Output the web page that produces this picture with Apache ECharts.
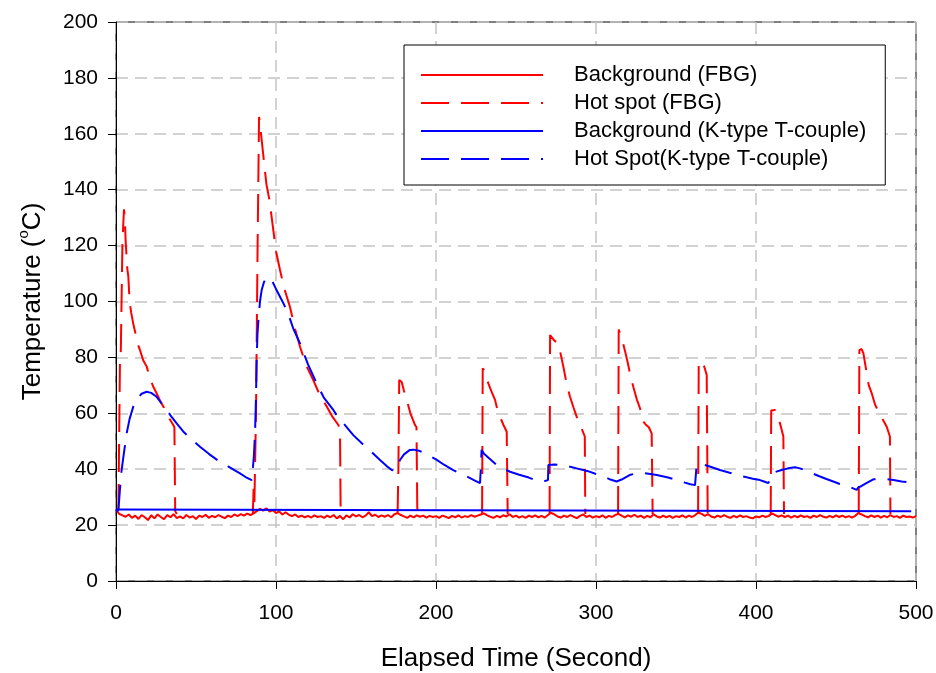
<!DOCTYPE html>
<html>
<head>
<meta charset="utf-8">
<script src="https://cdn.jsdelivr.net/npm/echarts@6/dist/echarts.min.js"></script>
<style>
  html, body { margin: 0; padding: 0; background: #fff; }
  #main { width: 936px; height: 673px; }
</style>
</head>
<body>
<div id="main"></div>
<script>
// --- data --- //
const seriesNames = [
  'Background (FBG)',
  'Hot spot (FBG)',
  'Background (K-type T-couple)',
  'Hot Spot(K-type T-couple)'
];

// background FBG, one reading every 2 s from 0 to 500 s
const bgFbgStep = 2;
const bgFbgTemp = [
  25.5, 24.0, 23.5, 23.0, 23.8, 22.6, 23.4, 22.2, 23.6, 22.8,
  21.8, 23.5, 22.4, 23.8, 22.9, 22.1, 23.6, 22.8, 23.9, 22.5,
  23.1, 22.4, 23.6, 22.7, 23.2, 22.2, 23.4, 22.9, 23.7, 22.6,
  23.3, 22.8, 23.6, 23.0, 22.5, 23.4, 22.9, 23.8, 23.2, 23.9,
  23.4, 24.1, 23.6, 24.2, 25.0, 25.8, 25.2, 26.0, 24.8, 25.4,
  24.3, 24.9, 23.8, 24.6, 23.7, 23.2, 23.8, 22.9, 23.4, 22.8,
  23.3, 22.7, 23.5, 22.9, 23.2, 22.6, 23.4, 22.8, 23.6, 22.4,
  23.3, 22.1, 23.5, 22.7, 23.9, 23.1, 23.6, 22.8, 23.4, 24.6,
  23.2, 23.7, 22.9, 23.5, 23.0, 23.6, 22.8, 23.9, 24.3, 23.6,
  23.1, 22.6, 23.4, 22.8, 23.5, 23.0, 23.4, 22.7, 23.3, 22.9,
  23.2, 22.6, 23.4, 23.0, 22.5, 23.3, 22.8, 23.5, 22.7, 23.2,
  22.9, 23.6, 23.0, 23.4, 23.8, 24.2, 23.5, 23.0, 22.6, 23.3,
  22.8, 23.5, 23.1, 23.9, 22.9, 23.4, 22.7, 23.2, 22.6, 23.4,
  22.9, 23.5, 22.8, 23.3, 22.7, 23.6, 24.4, 23.8, 23.1, 22.7,
  23.4, 22.9, 23.6, 23.0, 22.5, 23.3, 23.8, 22.9, 23.4, 22.7,
  23.2, 22.8, 23.5, 22.6, 23.3, 22.9, 23.6, 24.0, 23.4, 22.8,
  23.5, 23.0, 23.7, 22.9, 23.4, 22.6, 23.3, 22.8, 23.9, 23.1,
  22.7, 23.4, 22.8, 23.3, 22.6, 23.2, 22.9, 23.5, 22.7, 23.4,
  22.9, 23.6, 24.5, 24.0, 23.3, 23.9, 23.1, 22.7, 23.4, 22.9,
  23.6, 23.0, 22.6, 23.3, 22.8, 23.5, 22.9, 23.2, 22.7, 22.4,
  23.1, 22.8, 23.4, 22.9, 23.3, 24.2, 23.6, 23.0, 23.5, 22.9,
  23.4, 22.7, 23.3, 22.8, 23.5, 22.9, 23.2, 22.6, 23.4, 22.9,
  23.6, 23.0, 22.7, 23.3, 22.8, 23.5, 22.9, 23.4, 22.8, 23.2,
  22.7, 23.3, 24.3, 23.8, 23.2, 22.8, 23.5, 22.9, 23.4, 22.7,
  23.3, 22.8, 23.6, 22.9, 23.2, 22.6, 23.4, 22.9, 23.1, 22.7,
  23.2
];

// hot spot FBG: [time s, temp °C], null between heating events
const hotFbg = [
  [0, 25], [1.5, 26], [2.5, 80], [3, 82], [4, 120], [4.5, 127], [5, 133], [5.5, 130],
  [6, 122], [7, 112], [7.7, 109], [8.5, 100], [9.5, 96], [10.8, 92], [12, 89],
  [13.5, 85], [15, 82.6], [17, 79], [19.2, 76.7], [21, 73], [23.3, 69.5], [25.5, 67],
  [28, 64], [30, 62], [31.7, 60], [33.5, 58], [35.8, 55.8], [36.5, 55], [37, 25], [38, 24],
  null,
  [85.5, 24], [86, 33], [86.5, 28], [87.5, 60], [88.5, 120], [89.4, 166], [90, 164],
  [91, 158], [92.5, 150], [94, 142], [96, 136], [98.3, 125.6], [100, 118], [102.5, 111.3],
  [105, 105], [108.7, 98.1], [112, 90], [115, 83.8], [119, 77], [123.3, 71.9], [127, 67],
  [131.7, 62.4], [135, 59], [139, 55.8], [140, 54], [140.4, 25], [141, 24],
  null,
  [176, 24], [176.5, 40], [177, 71.9], [178.5, 71.3], [180, 68], [181.7, 64.8],
  [184, 60], [186.9, 55.8], [187.8, 55], [188.3, 26], [189, 24],
  null,
  [228.8, 24], [229.2, 76.1], [230.5, 75], [232.7, 70.7], [234.5, 68], [236.9, 64.8],
  [238.5, 61], [240, 58.8], [242, 56], [244.2, 53.4], [244.8, 24],
  null,
  [271, 24], [271.3, 88], [272.5, 87.5], [274, 86], [276.5, 85], [278, 81], [279.6, 76.7],
  [281.5, 71], [283.7, 66], [286, 62], [287.9, 58.8], [290, 56], [293, 51.7], [293.3, 24],
  null,
  [313.8, 24], [314.2, 90], [315.3, 89.8], [316.5, 86], [318, 82.6], [319.5, 79],
  [321, 74.9], [323.3, 69.5], [325.5, 65], [327.5, 61.8], [329.6, 57], [331, 56],
  [333, 55], [334.8, 52.8], [335.4, 24],
  null,
  [363.8, 24], [364.2, 77.3], [365.5, 77], [366.7, 78.5], [368, 76], [369.2, 73.7], [369.8, 24],
  null,
  [409.2, 24], [409.5, 61], [411.9, 61.2], [413.5, 59], [415, 56.4], [417.1, 51.7], [417.5, 24],
  null,
  [464.2, 24], [464.6, 82.6], [466, 83], [467.1, 81.5], [469.2, 74.3], [470.5, 70],
  [472.3, 67.2], [474.5, 63], [476.5, 60.6], [479, 58], [481.7, 55.2], [483.7, 51.7], [484, 24]
];

// background thermocouple
const bgK = [[0, 25.6], [1, 25], [497, 25]];

// hot spot thermocouple
const hotK = [
  [0, 25], [1.5, 25.4], [2.5, 33], [3.5, 39.7], [5, 46], [6.7, 52.9], [8.5, 58], [10.8, 62.4],
  [13, 65], [16, 67], [19.2, 67.7], [22, 67.3], [25.4, 65.9], [28.5, 63.5], [31.7, 61.2],
  [35, 58.5], [37.9, 56.4], [42, 53.5], [47, 50.8], [52.5, 48], [58, 45.5], [64, 43],
  [70, 41], [77.5, 38.5], [81, 37.2], [84.8, 36.1], [85.5, 40], [86.2, 45], [86.9, 52.9],
  [87.5, 66], [87.9, 79], [88.4, 88], [89, 93.4], [90, 100], [91, 104], [92.5, 107],
  [94.2, 108.6], [96, 108.5], [97.3, 107.7], [100, 104.5], [104.6, 99.4], [108, 95],
  [111, 90], [115, 85], [120, 77.5], [125.4, 70.7], [130, 65.5], [135.8, 61.2], [140, 57.5],
  [143.1, 55.8], [148.3, 52.2], [155, 48.5], [160, 46], [165, 43.3], [169, 41.2],
  [172.3, 39.7], [174.4, 39.5], [176, 40.5], [177.5, 43.3], [180, 45.3], [183.7, 46.9],
  [186, 47], [190, 46.5], [193, 45.7], [200, 43.5], [205, 41.6], [210.8, 39.7], [215, 38.5],
  [219.2, 37.4], [224, 36], [227.5, 35], [228, 40], [228.5, 46.9], [230, 45.5], [233, 44],
  [237.9, 41.5], [242, 40.2], [246.3, 39.1], [252, 38], [258, 37], [264, 35.6], [268, 35.8],
  [270, 36.1], [270.2, 41.5], [274, 41.7], [278.5, 41.5], [283, 41], [287.9, 40.3],
  [295, 39.3], [300, 38.3], [304.6, 37.4], [309, 36.3], [312.9, 35.6], [316, 36.3],
  [321, 37.9], [325, 38.5], [329.6, 38.6], [334, 38.3], [338, 37.9], [345, 37], [350, 36.2],
  [355.6, 35.2], [359, 34.6], [361.9, 34.3], [362.9, 41.5], [365, 41.7], [368, 41.5],
  [372, 40.8], [377.5, 39.7], [383, 38.8], [388, 38], [394.2, 37.1], [398, 36.6],
  [402.5, 36.1], [405, 35.6], [407.7, 35], [409.8, 37.9], [412, 39], [416, 39.7], [420, 40.3],
  [424.4, 40.7], [428, 40.2], [433, 39], [440, 37.4], [444, 36.5], [448.3, 35.6], [452, 34.8],
  [457, 34], [462.9, 32.6], [464, 33.5], [466, 34], [469, 35], [473.3, 36.4], [477, 36.5],
  [481.7, 36.4], [486, 36.1], [491, 35.6], [494, 35.4]
];

const font = "'Liberation Sans', Arial, sans-serif";
const dash = [28, 12];

const chart = echarts.init(document.getElementById('main'));

chart.setOption({
  animation: false,
  grid: {
    left: 116, right: 20, top: 22, bottom: 92,
    outerBoundsMode: 'none',
    show: true, borderColor: '#000', borderWidth: 1
  },
  legend: {
    orient: 'vertical',
    left: 404, top: 45,
    padding: [19, 19, 15, 16],
    itemWidth: 122, itemHeight: 14, itemGap: 6,
    backgroundColor: '#fff',
    borderColor: '#000', borderWidth: 1,
    itemStyle: { opacity: 0 },
    textStyle: { fontFamily: font, fontSize: 22, color: '#000', padding: [0, 0, 0, 26] },
    data: seriesNames
  },
  xAxis: {
    type: 'value', min: 0, max: 500, interval: 100,
    name: 'Elapsed Time (Second)', nameLocation: 'middle', nameGap: 65,
    nameTextStyle: { fontFamily: font, fontSize: 26, color: '#000' },
    axisLine: { lineStyle: { color: '#000', width: 1 } },
    axisTick: { length: 8, lineStyle: { color: '#000' } },
    axisLabel: { fontFamily: font, fontSize: 21, color: '#000', margin: 22 },
    splitLine: { lineStyle: { color: '#c4c4c4', width: 1.5, type: [12, 7] } }
  },
  yAxis: {
    type: 'value', min: 0, max: 200, interval: 20,
    name: 'Temperature ({sup|o}C)', nameLocation: 'middle', nameGap: 66,
    nameTextStyle: {
      fontFamily: font, fontSize: 26, color: '#000',
      rich: { sup: { fontFamily: font, fontSize: 15, color: '#000', verticalAlign: 'top', lineHeight: 34 } }
    },
    axisLine: { show: true, lineStyle: { color: '#000', width: 1 } },
    axisTick: { show: true, length: 8, lineStyle: { color: '#000' } },
    axisLabel: { fontFamily: font, fontSize: 21, color: '#000', margin: 18 },
    splitLine: { lineStyle: { color: '#c4c4c4', width: 1.5, type: [12, 7] } }
  },
  series: [
    {
      name: seriesNames[0], type: 'line', symbol: 'none',
      data: bgFbgTemp.map((v, i) => [i * bgFbgStep, v]),
      lineStyle: { color: '#ff0000', width: 2 }, itemStyle: { color: '#ff0000' }
    },
    {
      name: seriesNames[1], type: 'line', symbol: 'none', connectNulls: false,
      data: hotFbg,
      lineStyle: { color: '#ff0000', width: 2, type: dash }, itemStyle: { color: '#ff0000' }
    },
    {
      name: seriesNames[2], type: 'line', symbol: 'none',
      data: bgK,
      lineStyle: { color: '#0000ff', width: 2 }, itemStyle: { color: '#0000ff' }
    },
    {
      name: seriesNames[3], type: 'line', symbol: 'none',
      data: hotK,
      lineStyle: { color: '#0000ff', width: 2, type: dash }, itemStyle: { color: '#0000ff' }
    }
  ]
});
</script>
</body>
</html>
